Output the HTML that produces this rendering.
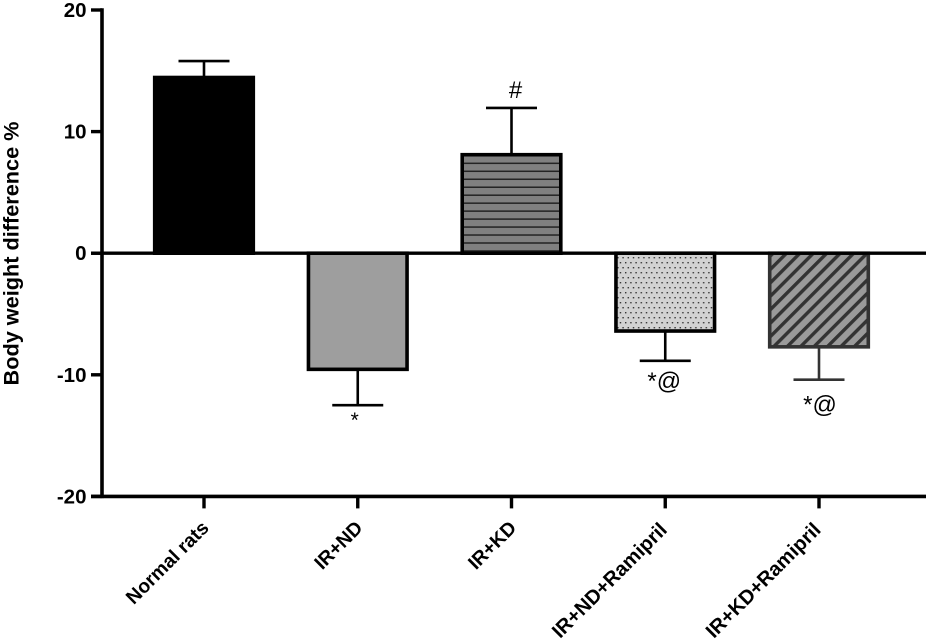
<!DOCTYPE html>
<html>
<head>
<meta charset="utf-8">
<style>
html,body{margin:0;padding:0;background:#fff;}
svg{display:block;}
text{font-family:"Liberation Sans",sans-serif;fill:#000;}
</style>
</head>
<body>
<svg id="chart" width="926" height="640" viewBox="0 0 926 640" xmlns="http://www.w3.org/2000/svg">
<defs>
<pattern id="hatch-h" patternUnits="userSpaceOnUse" width="8" height="7.97" patternTransform="translate(0,1.2)">
<rect width="8" height="7.97" fill="#808080"/>
<rect y="2" width="8" height="1.4" fill="#1c1c1c"/>
</pattern>
<pattern id="hatch-dots" patternUnits="userSpaceOnUse" width="10.4" height="10">
<rect width="10.4" height="10" fill="#d2d2d2"/>
<rect x="1" y="2" width="1.4" height="1.4" fill="#333"/>
<rect x="6.2" y="2" width="1.4" height="1.4" fill="#333"/>
<rect x="3.6" y="7" width="1.4" height="1.4" fill="#333"/>
<rect x="8.8" y="7" width="1.4" height="1.4" fill="#333"/>
</pattern>
<pattern id="hatch-diag" patternUnits="userSpaceOnUse" width="9.5" height="9.5" patternTransform="rotate(45) translate(2,0)">
<rect width="9.5" height="9.5" fill="#9a9a9a"/>
<rect x="0" y="0" width="3.4" height="9.5" fill="#333"/>
</pattern>
</defs>
<g id="bars"></g>
<g id="axes"></g>
</svg>
<script>
const categories = ["Normal rats", "IR+ND", "IR+KD", "IR+ND+Ramipril", "IR+KD+Ramipril"];
const means = [14.45, -9.55, 8.1, -6.4, -7.7];
const errors = [1.35, 2.95, 3.85, 2.45, 2.7];
const annotations = ["", "*", "#", "*@", "*@"];
const yTicks = [20, 10, 0, -10, -20];
const yTitle = "Body weight difference %";

const NS = "http://www.w3.org/2000/svg";
const fills = ["#000", "#9e9e9e", "url(#hatch-h)", "url(#hatch-dots)", "url(#hatch-diag)"];
const strokes = ["#000", "#000", "#000", "#000", "#333"];
const axisLeft = 102, axisRight = 926;
const firstX = 204, stepX = 153.75;
const barW = 98.6;
const yOf = v => 253.2 - v * 12.16;
const xOf = i => firstX + i * stepX;

function mk(parent, tag, attrs, txt) {
  const e = document.createElementNS(NS, tag);
  for (const k in attrs) e.setAttribute(k, attrs[k]);
  if (txt !== undefined) e.textContent = txt;
  parent.appendChild(e);
  return e;
}
const barsG = document.getElementById("bars");
const axesG = document.getElementById("axes");

means.forEach((m, i) => {
  const x = xOf(i), y0 = yOf(0), y1 = yOf(m);
  const c = strokes[i];
  const tip = yOf(m + (m >= 0 ? errors[i] : -errors[i]));
  const stem = mk(barsG, "line", {x1: x, x2: x, y1: y1, y2: tip, stroke: c, "stroke-width": 2.6});
  
  
  const cap = mk(barsG, "line", {x1: x - 25.5, x2: x + 25.5, y1: tip, y2: tip, stroke: c, "stroke-width": 2.6});
  
  
  const bar = mk(barsG, "rect", {x: x - barW / 2, y: Math.min(y0, y1), width: barW, height: Math.abs(y1 - y0), fill: fills[i], stroke: c, "stroke-width": 3.6});
  
  
});

const annDy = [0, 22, -10, 28, 33];
const annDx = [0, -3, 4, -1, 1];
const annSize = [0, 21, 24, 24, 24];
annotations.forEach((t, i) => {
  if (!t) return;
  const m = means[i];
  const tip = yOf(m + (m >= 0 ? errors[i] : -errors[i]));
  const a = mk(barsG, "text", {x: xOf(i) + annDx[i], y: tip + annDy[i], "font-size": annSize[i], "text-anchor": "middle"}, t);
  
  
});

const baseline = mk(axesG, "line", {x1: axisLeft - 11, x2: axisRight, y1: yOf(0), y2: yOf(0), stroke: "#000", "stroke-width": 3.4});


const yAxis = mk(axesG, "line", {x1: axisLeft, x2: axisLeft, y1: yOf(20) - 1.7, y2: yOf(-20) + 1.7, stroke: "#000", "stroke-width": 3.6});


const xAxis = mk(axesG, "line", {x1: axisLeft - 11, x2: axisRight, y1: yOf(-20), y2: yOf(-20), stroke: "#000", "stroke-width": 3.6});



yTicks.forEach(v => {
  const y = yOf(v);
  const t = mk(axesG, "line", {x1: axisLeft - 11, x2: axisLeft, y1: y, y2: y, stroke: "#000", "stroke-width": 3.4});
  
  
  const l = mk(axesG, "text", {x: 86.5, y: y + 7, "font-size": 20.5, "font-weight": "bold", "text-anchor": "end"}, String(v));
  
  
});

const labelSize = [19.4, 19.4, 19.4, 20.1, 20.1];
const labelDx = [6, 6, 6, 3, 3];
const labelY = [529, 529, 529, 531, 531];
categories.forEach((c, i) => {
  const x = xOf(i);
  const t = mk(axesG, "line", {x1: x, x2: x, y1: yOf(-20), y2: yOf(-20) + 12, stroke: "#000", "stroke-width": 3.4});
  
  
  const lx = x + labelDx[i], ly = labelY[i];
  const l = mk(axesG, "text", {x: lx, y: ly, "font-size": labelSize[i], "font-weight": "bold", "text-anchor": "end", transform: "rotate(-45 " + lx + " " + ly + ")"}, c);
  
  
});

const title = mk(axesG, "text", {x: 18.5, y: 253.5, "font-size": 21.7, "font-weight": "bold", "text-anchor": "middle", transform: "rotate(-90 18.5 253.5)"}, yTitle);


</script>
</body>
</html>
